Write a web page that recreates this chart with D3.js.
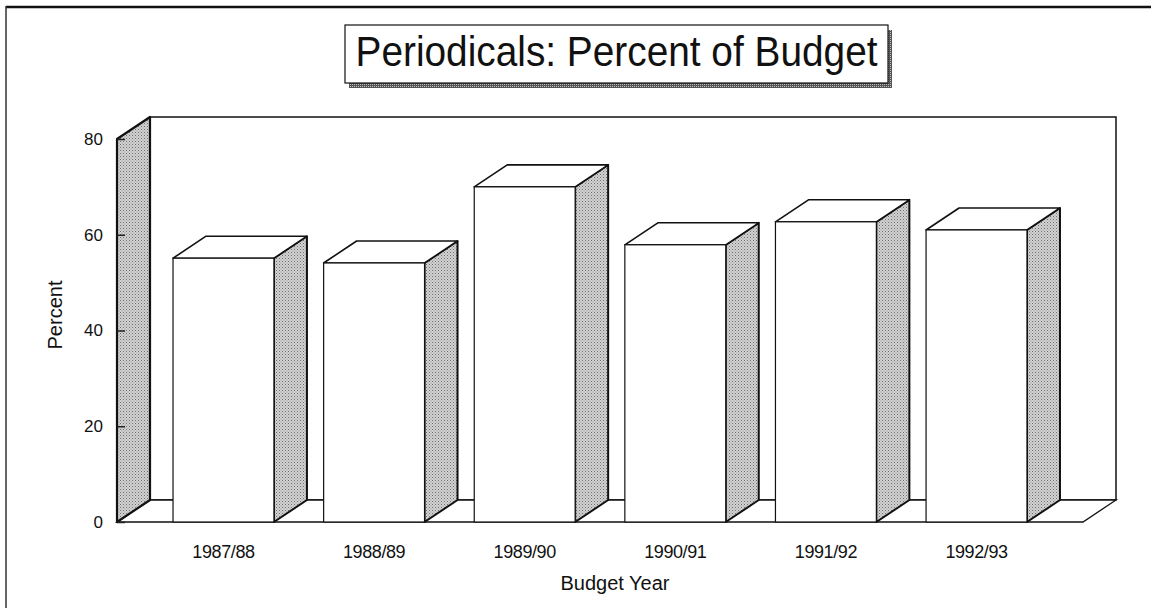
<!DOCTYPE html>
<html>
<head>
<meta charset="utf-8">
<script src="https://cdn.jsdelivr.net/npm/d3@7"></script>
<style>
  html, body { margin: 0; padding: 0; background: #fff; }
  svg { display: block; font-family: "Liberation Sans", Arial, Helvetica, sans-serif; }
</style>
</head>
<body>
<svg id="chart" width="1151" height="608"></svg>
<script>
// Share of the library budget spent on periodicals, by budget year
const categories = ["1987/88", "1988/89", "1989/90", "1990/91", "1991/92", "1992/93"];
const percents   = [55.1, 54.1, 70.0, 57.9, 62.7, 61.0];
const yTicks     = [0, 20, 40, 60, 80];

const svg = d3.select("#chart");

// Oblique depth of the 3-D box
const DX = 33, DY = -22;

const x = d3.scaleBand()
  .domain(categories)
  .range([117, 1083])
  .paddingInner(0.33)
  .paddingOuter(0.372);

const y = d3.scaleLinear()
  .domain([0, 80])
  .range([522, 139]);

// Halftone stipple used for the shaded faces
const defs = svg.append("defs");
const pat = defs.append("pattern")
  .attr("id", "stipple").attr("patternUnits", "userSpaceOnUse")
  .attr("width", 3).attr("height", 3);
pat.append("rect").attr("width", 3).attr("height", 3).attr("fill", "#d2d2d2");
pat.append("rect").attr("x", 0).attr("y", 0).attr("width", 1).attr("height", 1).attr("fill", "#6e6e6e");
pat.append("rect").attr("x", 1.5).attr("y", 1.5).attr("width", 1).attr("height", 1).attr("fill", "#909090");

const pat2 = defs.append("pattern")
  .attr("id", "shadow").attr("patternUnits", "userSpaceOnUse")
  .attr("width", 2).attr("height", 2);
pat2.append("rect").attr("width", 2).attr("height", 2).attr("fill", "#555");
pat2.append("rect").attr("width", 1).attr("height", 1).attr("fill", "#bbb");

// Page frame
svg.append("line").attr("x1", 6).attr("y1", 7).attr("x2", 1151).attr("y2", 7)
  .attr("stroke", "#111").attr("stroke-width", 2.5);
svg.append("line").attr("x1", 6).attr("y1", 6).attr("x2", 6).attr("y2", 608)
  .attr("stroke", "#333").attr("stroke-width", 1.5);

// Title box with drop shadow
const tb = { x: 345, y: 25, w: 543, h: 58 };
svg.append("rect").attr("x", tb.x + 4).attr("y", tb.y + 5).attr("width", tb.w).attr("height", tb.h)
  .attr("fill", "url(#shadow)");
svg.append("rect").attr("x", tb.x).attr("y", tb.y).attr("width", tb.w).attr("height", tb.h)
  .attr("fill", "#fff").attr("stroke", "#111").attr("stroke-width", 1.2);
svg.append("text")
  .attr("x", tb.x + tb.w / 2).attr("y", 66)
  .attr("text-anchor", "middle")
  .attr("font-size", 43)
  .attr("textLength", 522).attr("lengthAdjust", "spacingAndGlyphs")
  .attr("fill", "#111")
  .text("Periodicals: Percent of Budget");

const x0 = x.range()[0], x1 = x.range()[1];
const yb = y(0), yt = y(80);

// Back wall
svg.append("rect")
  .attr("x", x0 + DX).attr("y", yt + DY)
  .attr("width", x1 - x0).attr("height", yb - yt)
  .attr("fill", "#fff").attr("stroke", "#111").attr("stroke-width", 1.5);

// Floor
svg.append("path")
  .attr("d", `M${x0},${yb} L${x0 + DX},${yb + DY} L${x1 + DX},${yb + DY} L${x1},${yb} Z`)
  .attr("fill", "#fff").attr("stroke", "#111").attr("stroke-width", 1.3);

// Left wall
svg.append("path")
  .attr("d", `M${x0},${yb} L${x0},${yt} L${x0 + DX},${yt + DY} L${x0 + DX},${yb + DY} Z`)
  .attr("fill", "url(#stipple)").attr("stroke", "#111").attr("stroke-width", 2.2)
  .attr("stroke-linejoin", "round");

// Value axis: inner ticks on the wall edge, labels to the left
const yAxis = d3.axisLeft(y).tickValues(yTicks).tickSizeInner(-8).tickSizeOuter(0).tickPadding(14);
const gy = svg.append("g").attr("transform", `translate(${x0},0)`).call(yAxis);
gy.select(".domain").remove();
gy.selectAll(".tick line").attr("stroke", "#222").attr("stroke-width", 1.5);
gy.selectAll(".tick text").attr("font-size", 17).attr("fill", "#111")
  .attr("font-family", "Liberation Sans, Arial, sans-serif");

// Bars: side face, top face, front face
const bars = svg.append("g").selectAll("g").data(categories).join("g");
bars.each(function (c, i) {
  const g = d3.select(this);
  const l = x(c), r = x(c) + x.bandwidth();
  const t = y(percents[i]);
  g.append("path")
    .attr("d", `M${r},${t} L${r + DX},${t + DY} L${r + DX},${yb + DY} L${r},${yb} Z`)
    .attr("fill", "url(#stipple)").attr("stroke", "#111").attr("stroke-width", 2)
    .attr("stroke-linejoin", "round");
  g.append("path")
    .attr("d", `M${l},${t} L${l + DX},${t + DY} L${r + DX},${t + DY} L${r},${t} Z`)
    .attr("fill", "#fff").attr("stroke", "#111").attr("stroke-width", 1.6)
    .attr("stroke-linejoin", "round");
  g.append("rect")
    .attr("x", l).attr("y", t).attr("width", r - l).attr("height", yb - t)
    .attr("fill", "#fff").attr("stroke", "#111").attr("stroke-width", 1.2);
});

// Category axis along the front edge of the floor
const xAxis = d3.axisBottom(x).tickSize(0).tickPadding(23);
const gx = svg.append("g").attr("transform", `translate(0,${yb})`).call(xAxis);
gx.select(".domain").remove();
gx.selectAll(".tick text").attr("font-size", 18).attr("letter-spacing", "-0.4px")
  .attr("fill", "#111").attr("font-family", "Liberation Sans, Arial, sans-serif");

// Axis titles
svg.append("text")
  .attr("x", 615).attr("y", 590)
  .attr("text-anchor", "middle").attr("font-size", 20).attr("fill", "#111")
  .text("Budget Year");

svg.append("text")
  .attr("transform", "translate(62,315) rotate(-90)")
  .attr("text-anchor", "middle").attr("font-size", 20).attr("fill", "#111")
  .text("Percent");
</script>
</body>
</html>
